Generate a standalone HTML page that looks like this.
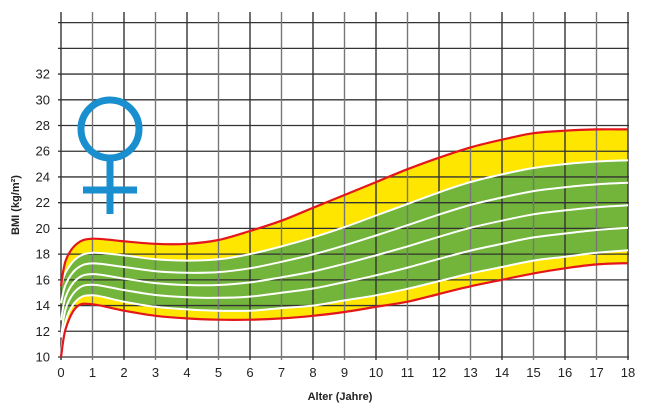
<!DOCTYPE html>
<html><head><meta charset="utf-8"><style>
html,body{margin:0;padding:0;background:#fff;width:670px;height:411px;overflow:hidden}
svg{display:block;font-family:"Liberation Sans",sans-serif}
</style></head><body>
<svg id="s" width="670" height="411" viewBox="0 0 670 411" xmlns="http://www.w3.org/2000/svg"></svg>
<script>
const X=a=>61+a*31.5, Y=v=>357-(v-10)*12.86;
const ages=[0,0.15,0.5,1,2,3,4,5,6,7,8,9,10,11,12,13,14,15,16,17,18];
const p97=[15.5,17.5,18.8,19.2,19.0,18.8,18.8,19.1,19.8,20.6,21.6,22.6,23.6,24.6,25.5,26.3,26.9,27.4,27.6,27.7,27.7];
const p90=[15.5,16.6,17.7,18.1,17.9,17.6,17.5,17.6,18.0,18.6,19.3,20.1,21.0,21.9,22.8,23.6,24.2,24.7,25.0,25.2,25.3];
const p10=[10.2,12.8,14.4,14.8,14.3,13.9,13.7,13.6,13.6,13.8,14.0,14.4,14.8,15.3,15.9,16.5,17.0,17.5,17.8,18.1,18.3];
const p3=[10.0,12.2,13.9,14.1,13.6,13.2,13.0,12.9,12.9,13.0,13.2,13.5,13.9,14.3,14.9,15.5,16.0,16.5,16.9,17.2,17.3];
function mix(a,b,t){return a.map((v,i)=>v+(b[i]-v)*t)}
function path(arr,rev){let pts=ages.map((a,i)=>[X(a),Y(arr[i])]);if(rev)pts=pts.reverse();
 let d=(rev?"L":"M")+pts[0][0].toFixed(1)+","+pts[0][1].toFixed(1);
 for(let i=0;i<pts.length-1;i++){const p0=pts[Math.max(0,i-1)],p1=pts[i],p2=pts[i+1],p3=pts[Math.min(pts.length-1,i+2)];
 const c1=[p1[0]+(p2[0]-p0[0])/6,p1[1]+(p2[1]-p0[1])/6],c2=[p2[0]-(p3[0]-p1[0])/6,p2[1]-(p3[1]-p1[1])/6];
 d+=`C${c1[0].toFixed(1)},${c1[1].toFixed(1)} ${c2[0].toFixed(1)},${c2[1].toFixed(1)} ${p2[0].toFixed(1)},${p2[1].toFixed(1)}`;}
 return d;}
let h="";
h+=`<path d="${path(p97)}${path(p3,true)}Z" fill="#ffe600"/>`;
h+=`<path d="${path(p90)}${path(p10,true)}Z" fill="#72b53a"/>`;
// grid
for(let v=10;v<=36;v+=2){h+=`<line x1="58" x2="629" y1="${Y(v)}" y2="${Y(v)}" stroke="#333" stroke-width="1.3"/>`;}
for(let a=0;a<=18;a++){h+=`<line x1="${X(a)}" x2="${X(a)}" y1="12" y2="360" stroke="${a%2?'#777':'#333'}" stroke-width="1.4"/>`;}
[p90,mix(p10,p90,0.75),mix(p10,p90,0.5),mix(p10,p90,0.25),p10].forEach(c=>{h+=`<path d="${path(c)}" fill="none" stroke="#fff" stroke-width="2"/>`});
h+=`<path d="${path(p97)}" fill="none" stroke="#e3161b" stroke-width="2.2"/>`;
h+=`<path d="${path(p3)}" fill="none" stroke="#e3161b" stroke-width="2.2"/>`;
for(let v=10;v<=32;v+=2){h+=`<text x="50" y="${Y(v)+4.5}" font-size="13" text-anchor="end" fill="#222">${v}</text>`;}
for(let a=0;a<=18;a++){h+=`<text x="${X(a)}" y="377" font-size="13" text-anchor="middle" fill="#222">${a}</text>`;}
h+=`<text x="340" y="400" font-size="11" font-weight="bold" text-anchor="middle" fill="#222">Alter (Jahre)</text>`;
h+=`<text transform="translate(19,205) rotate(-90)" font-size="11" font-weight="bold" text-anchor="middle" fill="#222">BMI (kg/m²)</text>`;
h+=`<circle cx="110" cy="129" r="29" fill="none" stroke="#1a8fd0" stroke-width="7"/>`;
h+=`<line x1="110" y1="158" x2="110" y2="214" stroke="#1a8fd0" stroke-width="7"/>`;
h+=`<line x1="83" y1="190" x2="137" y2="190" stroke="#1a8fd0" stroke-width="7"/>`;
document.getElementById("s").innerHTML=h;
</script>
</body></html>
